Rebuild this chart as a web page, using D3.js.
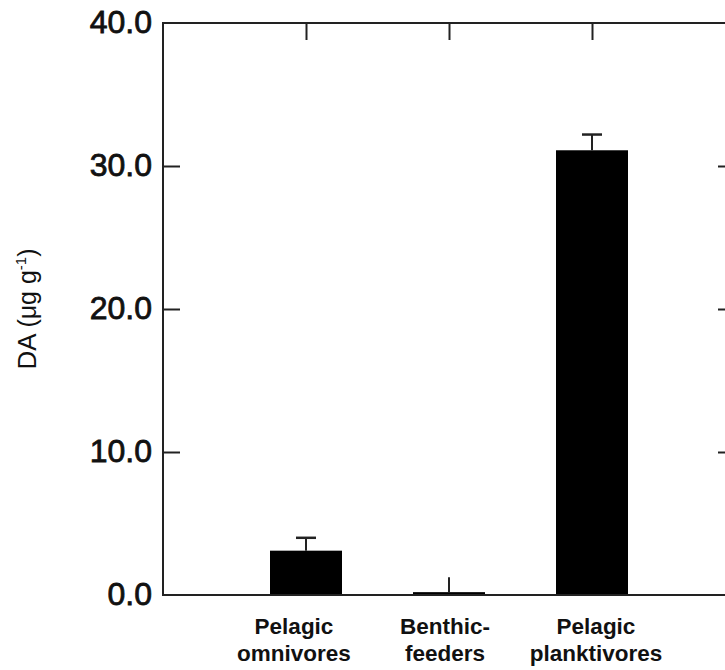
<!DOCTYPE html>
<html>
<head>
<meta charset="utf-8">
<script src="https://cdn.jsdelivr.net/npm/d3@7"></script>
<style>
  html, body { margin: 0; padding: 0; background: #fff; }
  svg { display: block; }
</style>
</head>
<body>
<svg id="chart" width="725" height="670"></svg>
<script>
// Domoic acid concentration by feeding group
const categories = [["Pelagic", "omnivores"], ["Benthic-", "feeders"], ["Pelagic", "planktivores"]];
const means = [3.1, 0.2, 31.1];
const upperErr = [4.0, 1.25, 32.2];
const capped = [true, false, true];
const yTicks = [0, 10, 20, 30, 40];

const svg = d3.select("#chart");
const plotL = 163, plotT = 23, plotR = 735, plotB = 595;

// category slots sit at 1, 2, 3 on a 0..4 frame
const x = d3.scaleLinear().domain([0, 4]).range([plotL, plotR]);
const y = d3.scaleLinear().domain([0, 40]).range([plotB, plotT]);
const barW = 72, capW = 20, tickLen = 17;
const ink = "#222";
const font = "Liberation Sans, Arial, sans-serif";

const g = svg.append("g");

// bars
g.selectAll("rect.bar").data(means).join("rect")
  .attr("class", "bar")
  .attr("x", (d, i) => x(i + 1) - barW / 2)
  .attr("width", barW)
  .attr("y", d => y(d))
  .attr("height", d => y(0) - y(d))
  .attr("fill", "#000");

// error bars
g.selectAll("line.err").data(upperErr).join("line")
  .attr("class", "err")
  .attr("x1", (d, i) => x(i + 1)).attr("x2", (d, i) => x(i + 1))
  .attr("y1", (d, i) => y(means[i])).attr("y2", d => y(d))
  .attr("stroke", ink).attr("stroke-width", 2);
upperErr.forEach((d, i) => {
  if (!capped[i]) return;
  g.append("line")
    .attr("x1", x(i + 1) - capW / 2).attr("x2", x(i + 1) + capW / 2)
    .attr("y1", y(d)).attr("y2", y(d))
    .attr("stroke", ink).attr("stroke-width", 2.5);
});

// frame
g.append("rect")
  .attr("x", plotL).attr("y", plotT)
  .attr("width", plotR - plotL).attr("height", plotB - plotT)
  .attr("fill", "none").attr("stroke", ink).attr("stroke-width", 2);

// left axis: ticks inward
const yAxisL = d3.axisLeft(y).tickValues(yTicks).tickFormat(d3.format(".1f"))
  .tickSizeInner(-tickLen).tickSizeOuter(0).tickPadding(11);
const gl = svg.append("g").attr("transform", `translate(${plotL},0)`).call(yAxisL);
gl.select(".domain").remove();
gl.selectAll(".tick line").attr("stroke", ink).attr("stroke-width", 2)
  .filter(d => d === 0 || d === 40).remove();
gl.selectAll(".tick text")
  .attr("font-family", font)
  .attr("font-size", 32).attr("fill", "#111")
  .attr("stroke", "#111").attr("stroke-width", 0.8)
  .attr("dy", "0.31em");

// right axis: ticks inward
const yAxisR = d3.axisRight(y).tickValues(yTicks.filter(d => d > 0 && d < 40))
  .tickSizeInner(-tickLen).tickSizeOuter(0).tickFormat("");
const gr = svg.append("g").attr("transform", `translate(${plotR},0)`).call(yAxisR);
gr.select(".domain").remove();
gr.selectAll(".tick line").attr("stroke", ink).attr("stroke-width", 2);

// top axis: ticks downward at each category
const xAxisT = d3.axisTop(x).tickValues([1, 2, 3]).tickSizeInner(-tickLen)
  .tickSizeOuter(0).tickFormat("");
const gt = svg.append("g").attr("transform", `translate(0,${plotT})`).call(xAxisT);
gt.select(".domain").remove();
gt.selectAll(".tick line").attr("stroke", ink).attr("stroke-width", 2);

// category labels, two lines each, nudged slightly off the bar centres
const labelNudge = [-12, -4, 4];
const lab = svg.append("g")
  .attr("font-family", font)
  .attr("font-weight", "bold").attr("font-size", 22.5)
  .attr("fill", "#111").attr("text-anchor", "middle");
categories.forEach((lines, i) => {
  lines.forEach((t, j) => {
    lab.append("text").attr("x", x(i + 1) + labelNudge[i]).attr("y", 634 + j * 27).text(t);
  });
});

// y axis title
const title = svg.append("text")
  .attr("transform", `translate(36,${(plotT + plotB) / 2}) rotate(-90)`)
  .attr("text-anchor", "middle")
  .attr("font-family", font)
  .attr("fill", "#111");
title.append("tspan").attr("font-size", 26).text("DA  ");
title.append("tspan").attr("font-size", 25).text("(\u03bcg g");
title.append("tspan").attr("font-size", 15).attr("dy", -10).text("-1");
title.append("tspan").attr("font-size", 25).attr("dy", 10).text(")");
</script>
</body>
</html>
